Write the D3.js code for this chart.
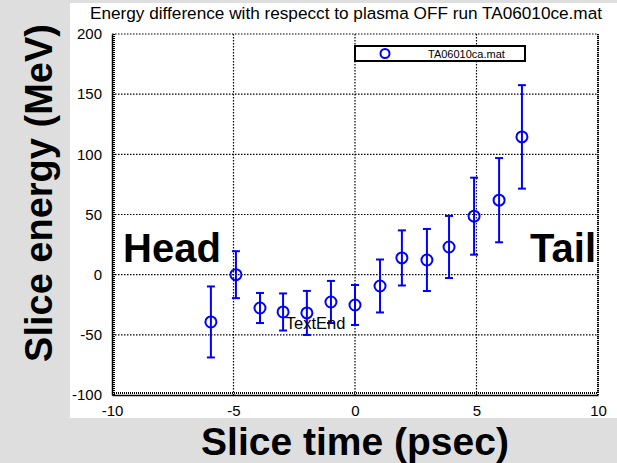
<!DOCTYPE html>
<html>
<head>
<meta charset="utf-8">
<script src="https://cdn.jsdelivr.net/npm/d3@7"></script>
<style>
  body { margin: 0; background: #dedede; }
  svg { display: block; }
  text { font-family: "Liberation Sans", Arial, sans-serif; fill: #000; }
</style>
</head>
<body>
<div id="chart"></div>
<script>
// slice time (psec), energy difference (MeV) and error half-length
var sliceTime = [-5.93, -4.9, -3.91, -2.96, -1.98, -0.99, 0.0, 1.03, 1.93, 2.96, 3.87, 4.9, 5.93, 6.87];
var sliceEnergy = [-39.3, 0.0, -27.7, -31.0, -31.8, -22.7, -25.2, -9.4, 13.9, 12.2, 23.0, 48.6, 61.9, 114.5];
var sliceErr = [29.5, 19.5, 12.5, 15.4, 18.3, 17.5, 16.6, 22.0, 22.9, 25.8, 25.8, 32.0, 35.0, 43.0];

var xTicks = [-10, -5, 0, 5, 10];
var yTicks = [-100, -50, 0, 50, 100, 150, 200];

var titleText = "Energy difference with respecct to plasma OFF run TA06010ce.mat";
var legendName = "TA06010ca.mat";

var W = 617, H = 463;
var pL = 112, pR = 598, pT = 34, pB = 395;

var svg = d3.select("#chart").append("svg")
    .attr("width", W)
    .attr("height", H);

svg.append("rect")
    .attr("width", W).attr("height", H)
    .attr("fill", "#dedede");

// white axes panel
svg.append("rect")
    .attr("x", 70).attr("y", 3)
    .attr("width", W - 70).attr("height", 415)
    .attr("fill", "#fff");

var x = d3.scaleLinear().domain([-10, 10]).range([pL, pR]);
var y = d3.scaleLinear().domain([-100, 200]).range([pB, pT]);

// dotted grid
var grid = svg.append("g")
    .attr("stroke", "#000")
    .attr("stroke-width", 1.2)
    .attr("stroke-dasharray", "1.5,1.5");

grid.selectAll(".gx").data(xTicks.slice(1)).enter().append("line")
    .attr("x1", function(d){ return x(d); })
    .attr("x2", function(d){ return x(d); })
    .attr("y1", pT).attr("y2", pB);

grid.selectAll(".gy").data(yTicks.slice(1)).enter().append("line")
    .attr("x1", pL).attr("x2", pR)
    .attr("y1", function(d){ return y(d); })
    .attr("y2", function(d){ return y(d); });

// right border a bit heavier
svg.append("line")
    .attr("x1", pR).attr("x2", pR)
    .attr("y1", pT).attr("y2", pB)
    .attr("stroke", "#000").attr("stroke-width", 2)
    .attr("stroke-dasharray", "1,1");

// axes with fake dense minor ticks
var fmt = function(d){ return String(d); };
var xAxis = d3.axisBottom(x).tickValues(xTicks).tickSize(0).tickPadding(10).tickFormat(fmt);
var yAxis = d3.axisLeft(y).tickValues(yTicks).tickSize(0).tickPadding(10).tickFormat(fmt);

var gx = svg.append("g")
    .attr("transform", "translate(0," + pB + ")")
    .call(xAxis);
var gy = svg.append("g")
    .attr("transform", "translate(" + pL + ",0)")
    .call(yAxis);

[gx, gy].forEach(function(g){
    g.select(".domain").attr("stroke", "#000").attr("stroke-width", 1.5);
    g.selectAll("text")
        .attr("font-size", 15)
        .attr("font-family", "Liberation Sans, Arial, sans-serif")
        .attr("fill", "#000");
});

svg.append("line")
    .attr("x1", pL + 2).attr("x2", pL + 2)
    .attr("y1", pT).attr("y2", pB)
    .attr("stroke", "#000").attr("stroke-width", 2)
    .attr("stroke-dasharray", "1,1");
svg.append("line")
    .attr("x1", pL).attr("x2", pR)
    .attr("y1", pB - 2).attr("y2", pB - 2)
    .attr("stroke", "#000").attr("stroke-width", 2)
    .attr("stroke-dasharray", "1,1");

// error bars
var pts = sliceTime.map(function(t, i){
    return {t: t, e: sliceEnergy[i], err: sliceErr[i]};
});

var eb = svg.append("g")
    .attr("stroke", "#0000ff")
    .attr("stroke-width", 2)
    .attr("fill", "none");

eb.selectAll(".v").data(pts).enter().append("line")
    .attr("x1", function(d){ return x(d.t); })
    .attr("x2", function(d){ return x(d.t); })
    .attr("y1", function(d){ return y(d.e + d.err); })
    .attr("y2", function(d){ return y(d.e - d.err); });

eb.selectAll(".ct").data(pts).enter().append("line")
    .attr("x1", function(d){ return x(d.t) - 4; })
    .attr("x2", function(d){ return x(d.t) + 4; })
    .attr("y1", function(d){ return y(d.e + d.err); })
    .attr("y2", function(d){ return y(d.e + d.err); });

eb.selectAll(".cb").data(pts).enter().append("line")
    .attr("x1", function(d){ return x(d.t) - 4; })
    .attr("x2", function(d){ return x(d.t) + 4; })
    .attr("y1", function(d){ return y(d.e - d.err); })
    .attr("y2", function(d){ return y(d.e - d.err); });

eb.selectAll("circle").data(pts).enter().append("circle")
    .attr("cx", function(d){ return x(d.t); })
    .attr("cy", function(d){ return y(d.e); })
    .attr("r", 5.5)
    .attr("fill", "none");

// labels inside plot
svg.append("text")
    .attr("x", 123).attr("y", 262)
    .attr("font-size", 40).attr("font-weight", "bold")
    .text("Head");

svg.append("text")
    .attr("x", 596).attr("y", 262)
    .attr("text-anchor", "end")
    .attr("font-size", 40).attr("font-weight", "bold")
    .text("Tail");

svg.append("text")
    .attr("x", x(-2.85)).attr("y", y(-40))
    .attr("dy", "0.35em")
    .attr("font-size", 16.5)
    .text("TextEnd");

// legend
svg.append("rect")
    .attr("x", 355).attr("y", 46)
    .attr("width", 170).attr("height", 15)
    .attr("fill", "#fff")
    .attr("stroke", "#000").attr("stroke-width", 2);
svg.append("circle")
    .attr("cx", 385).attr("cy", 53.5).attr("r", 4.5)
    .attr("fill", "none").attr("stroke", "#0000ff").attr("stroke-width", 2);
svg.append("text")
    .attr("x", 428).attr("y", 57.5)
    .attr("font-size", 11)
    .text(legendName);

// titles
svg.append("text")
    .attr("x", 346).attr("y", 19)
    .attr("text-anchor", "middle")
    .attr("font-size", 17.2)
    .text(titleText);

svg.append("text")
    .attr("x", 355).attr("y", 455)
    .attr("text-anchor", "middle")
    .attr("font-size", 39).attr("font-weight", "bold")
    .text("Slice time (psec)");

svg.append("text")
    .attr("transform", "translate(52,193) rotate(-90)")
    .attr("text-anchor", "middle")
    .attr("font-size", 38).attr("font-weight", "bold")
    .text("Slice energy (MeV)");
</script>
</body>
</html>
